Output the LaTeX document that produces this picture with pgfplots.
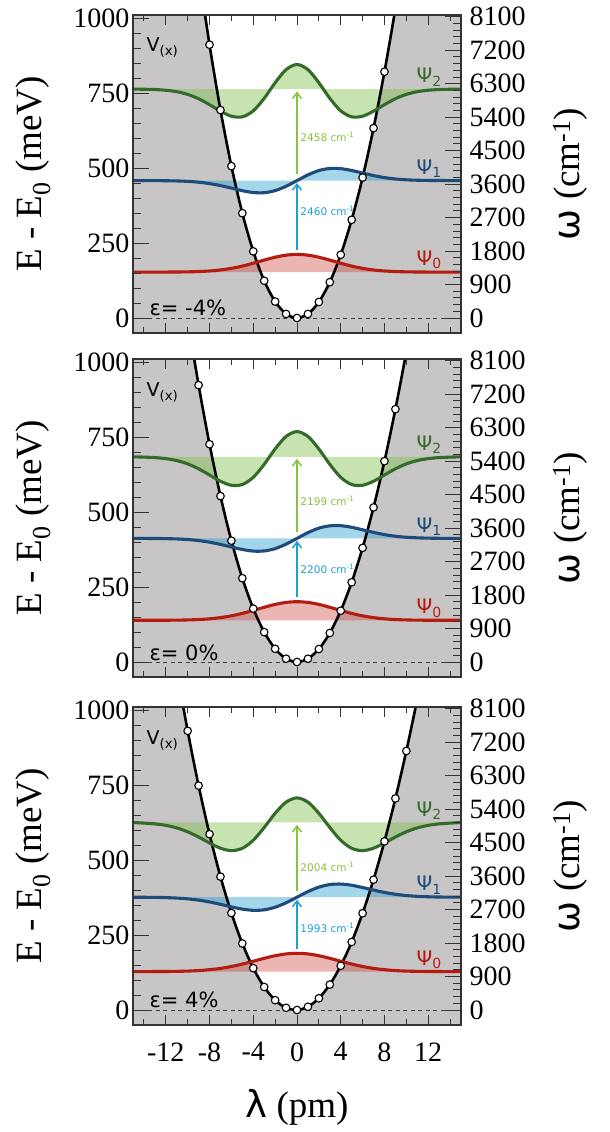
\documentclass[border=0pt]{standalone}
\usepackage{fontspec}
\setmainfont{Liberation Serif}
\newfontfamily\dv{DejaVu Sans}
\usepackage{pgfplots}
\pgfplotsset{compat=1.18}
\usepgfplotslibrary{fillbetween}
\usetikzlibrary{arrows.meta}

\definecolor{vgray}{RGB}{199,197,197}
\definecolor{redL}{RGB}{180,28,18}
\definecolor{bluL}{RGB}{30,75,122}
\definecolor{grnL}{RGB}{52,106,42}
\definecolor{redF}{RGB}{205,70,60}
\definecolor{bluF}{RGB}{50,165,210}
\definecolor{grnF}{RGB}{130,195,80}
\definecolor{arB}{RGB}{30,158,212}
\definecolor{arG}{RGB}{135,195,60}

\pgfplotsset{
 pbase/.style={width=328pt,height=318pt,scale only axis,xmin=-15,xmax=15,
   axis on top,set layers,
   tick label style={font=\fontsize{28}{28}\selectfont},
   /pgf/number format/assume math mode=true,/pgf/number format/1000 sep={},
   tick align=inside,axis line style={line width=1.3pt,black!80},
   tick style={line width=0.9pt,black!80},
   major tick length=16pt,minor tick length=8pt},
 pL/.style={pbase,ymin=-50,ymax=1010,ytick={0,250,500,750,1000},minor y tick num=4,
   ytick pos=left,xtick={-12,-8,-4,0,4,8,12},minor xtick={-14,-10,-6,-2,2,6,10,14},
   xtick pos=both,
   x tick style={/pgfplots/major tick length=10pt,/pgfplots/minor tick length=6pt}},
 pR/.style={pbase,ymin=-403.3,ymax=8146.2,axis y line*=right,hide x axis,
   ytick={0,900,...,8100},minor y tick num=4,yticklabel style={xshift=5pt}},
 vline/.style={smooth,black,line width=2.6pt},
 circ/.style={only marks,mark=*,mark size=3.8pt,black,line width=1.1pt,mark options={fill=white}},
 wl/.style={smooth,line width=3.1pt},
 zl/.style={black!75,line width=0.8pt,dash pattern=on 4pt off 3.5pt},
 gfill/.style={fill=vgray,draw=none},
}
\newcommand{\lab}{\dv\fontsize{10.5}{10.5}\selectfont}
\newcommand{\psif}{\dv\fontsize{20}{20}\selectfont}
\newcommand{\epsf}{\dv\fontsize{21}{21}\selectfont}
\newcommand{\vf}{\dv\fontsize{19}{19}\selectfont}

\begin{document}
\begin{tikzpicture}

% ================= PANEL 1 (eps = -4%) =================
\begin{axis}[pL,at={(0pt,692pt)},anchor=south west,xticklabels={}]
\addplot[draw=none,name path=bA] coordinates {(-15,-60) (15,-60)};
\addplot[vline,name path=VA] coordinates {(-15,3341) (-13,2480) (-12,2100) (-11,1754) (-10,1441) (-9,1160) (-8,911) (-7,693.2) (-6,506.1) (-5,349.3) (-4,222.1) (-3,124.1) (-2,54.8) (-1,13.6) (0,0) (1,13.4) (2,53.4) (3,119.4) (4,210.8) (5,327.3) (6,468.1) (7,632.8) (8,820.8) (9,1031.7) (10,1265) (11,1520) (12,1796) (13,2093) (15,2747)};
\addplot[gfill] fill between[of=VA and bA];
\addplot[zl] coordinates {(-15,0) (15,0)};
\addplot[circ] coordinates {(-8,911) (-7,693.2) (-6,506.1) (-5,349.3) (-4,222.1) (-3,124.1) (-2,54.8) (-1,13.6) (0,0) (1,13.4) (2,53.4) (3,119.4) (4,210.8) (5,327.3) (6,468.1) (7,632.8) (8,820.8)};
% psi0
\addplot[wl,redL,name path=a0A] coordinates {(-15,153) (-13,153) (-12,153.1) (-11,153.3) (-10,153.8) (-9,154.8) (-8,156.7) (-7,160.1) (-6,165.4) (-5,173.0) (-4,182.5) (-3,193.0) (-2,202.6) (-1,209.5) (0,212.0) (1,209.5) (2,202.6) (3,193.0) (4,182.5) (5,173.0) (6,165.4) (7,160.1) (8,156.7) (9,154.8) (10,153.8) (11,153.3) (12,153.1) (13,153) (15,153)};
\addplot[draw=none,name path=b0A] coordinates {(-15,153) (15,153)};
\addplot[fill=redF,fill opacity=0.4,draw=none] fill between[of=a0A and b0A];
% psi1
\addplot[wl,bluL,name path=a1A] coordinates {(-15,458) (-13,457.8) (-12,457.5) (-11,456.8) (-10,455.4) (-9,452.6) (-8,448.0) (-7,441.3) (-6,432.9) (-5,424.3) (-4,418.2) (-3,417.6) (-2,424.6) (-1,439.0) (0,458) (1,477.0) (2,491.4) (3,498.4) (4,497.8) (5,491.7) (6,483.1) (7,474.7) (8,468.0) (9,463.4) (10,460.6) (11,459.2) (12,458.5) (13,458.2) (15,458)};
\addplot[draw=none,name path=b1A] coordinates {(-15,458) (15,458)};
\addplot[fill=bluF,fill opacity=0.45,draw=none] fill between[of=a1A and b1A];
% psi2
\addplot[wl,grnL,name path=a2A] coordinates {(-15,763) (-14,762.4) (-13,761.5) (-12,759.1) (-11,754.3) (-10,745.3) (-9,730.9) (-8,711.1) (-7,689.4) (-6,672.6) (-5,670.5) (-4,690.4) (-3,732.1) (-2,784.2) (-1,827.9) (0,845.0) (1,827.9) (2,784.2) (3,732.1) (4,690.4) (5,670.5) (6,672.6) (7,689.4) (8,711.1) (9,730.9) (10,745.3) (11,754.3) (12,759.1) (13,761.5) (14,762.4) (15,763)};
\addplot[draw=none,name path=b2A] coordinates {(-15,763) (15,763)};
\addplot[fill=grnF,fill opacity=0.45,draw=none] fill between[of=a2A and b2A];
% arrows
\draw[arB,line width=1.5pt,-{Straight Barb[length=6pt,width=9pt]}] (axis cs:0,228) -- (axis cs:0,450);
\draw[arG,line width=1.5pt,-{Straight Barb[length=6pt,width=9pt]}] (axis cs:0,480) -- (axis cs:0,755);
\node[arB,anchor=west,inner sep=0pt,font=\lab] at (axis cs:0.3,358) {2460 cm\textsuperscript{-1}};
\node[arG,anchor=west,inner sep=0pt,font=\lab] at (axis cs:0.3,603) {2458 cm\textsuperscript{-1}};
\node[redL,font=\psif] at (axis cs:12.1,193) {Ψ\textsubscript{0}};
\node[bluL,font=\psif] at (axis cs:12.1,498) {Ψ\textsubscript{1}};
\node[grnL,font=\psif] at (axis cs:12.1,803) {Ψ\textsubscript{2}};
\node[font=\vf] at (axis cs:-12.3,902) {V\textsubscript{(x)}};
\node[anchor=west,inner sep=0pt,font=\epsf] at (axis cs:-13.5,34) {ε= -4\%};
\end{axis}
\begin{axis}[pR,at={(0pt,692pt)},anchor=south west]
\addplot[draw=none] coordinates {(0,0)};
\end{axis}

% ================= PANEL 2 (eps = 0%) =================
\begin{axis}[pL,at={(0pt,348pt)},anchor=south west,xticklabels={}]
\addplot[draw=none,name path=bB] coordinates {(-15,-60) (15,-60)};
\addplot[vline,name path=VB] coordinates {(-15,2638) (-13,1963) (-12,1664.6) (-11,1392.1) (-10,1145) (-9,923.0) (-8,725.8) (-7,553.0) (-6,404.3) (-5,279.4) (-4,177.9) (-3,99.6) (-2,44.0) (-1,11.0) (0,0) (1,10.9) (2,43.2) (3,96.6) (4,170.9) (5,265.6) (6,380.5) (7,515.2) (8,669.4) (9,842.8) (10,1035) (11,1245.7) (12,1474.6) (13,1721) (15,2267)};
\addplot[gfill] fill between[of=VB and bB];
\addplot[zl] coordinates {(-15,0) (15,0)};
\addplot[circ] coordinates {(-9,923.0) (-8,725.8) (-7,553.0) (-6,404.3) (-5,279.4) (-4,177.9) (-3,99.6) (-2,44.0) (-1,11.0) (0,0) (1,10.9) (2,43.2) (3,96.6) (4,170.9) (5,265.6) (6,380.5) (7,515.2) (8,669.4) (9,842.8)};
\addplot[wl,redL,name path=a0B] coordinates {(-15,139) (-13,139.1) (-12,139.2) (-11,139.5) (-10,140.2) (-9,141.5) (-8,143.9) (-7,147.9) (-6,153.9) (-5,162.0) (-4,171.9) (-3,182.4) (-2,191.9) (-1,198.6) (0,201.0) (1,198.6) (2,191.9) (3,182.4) (4,171.9) (5,162.0) (6,153.9) (7,147.9) (8,143.9) (9,141.5) (10,140.2) (11,139.5) (12,139.2) (13,139.1) (15,139)};
\addplot[draw=none,name path=b0B] coordinates {(-15,139) (15,139)};
\addplot[fill=redF,fill opacity=0.4,draw=none] fill between[of=a0B and b0B];
\addplot[wl,bluL,name path=a1B] coordinates {(-15,412) (-13,411.7) (-12,411.2) (-11,410.2) (-10,408.2) (-9,404.8) (-8,399.4) (-7,392.0) (-6,383.3) (-5,375.0) (-4,369.7) (-3,370.1) (-2,377.9) (-1,392.8) (0,412) (1,431.2) (2,446.1) (3,453.9) (4,454.3) (5,449.0) (6,440.7) (7,432.0) (8,424.6) (9,419.2) (10,415.8) (11,413.8) (12,412.8) (13,412.3) (15,412)};
\addplot[draw=none,name path=b1B] coordinates {(-15,412) (15,412)};
\addplot[fill=bluF,fill opacity=0.45,draw=none] fill between[of=a1B and b1B];
\addplot[wl,grnL,name path=a2B] coordinates {(-15,684) (-14,682.9) (-13,681.3) (-12,677.9) (-11,671.4) (-10,660.4) (-9,644.0) (-8,623.3) (-7,602.5) (-6,589.1) (-5,591.5) (-4,615.5) (-3,658.8) (-2,710.2) (-1,751.9) (0,768.0) (1,751.9) (2,710.2) (3,658.8) (4,615.5) (5,591.5) (6,589.1) (7,602.5) (8,623.3) (9,644.0) (10,660.4) (11,671.4) (12,677.9) (13,681.3) (14,682.9) (15,684)};
\addplot[draw=none,name path=b2B] coordinates {(-15,684) (15,684)};
\addplot[fill=grnF,fill opacity=0.45,draw=none] fill between[of=a2B and b2B];
\draw[arB,line width=1.5pt,-{Straight Barb[length=6pt,width=9pt]}] (axis cs:0,216) -- (axis cs:0,404);
\draw[arG,line width=1.5pt,-{Straight Barb[length=6pt,width=9pt]}] (axis cs:0,434) -- (axis cs:0,677);
\node[arB,anchor=west,inner sep=0pt,font=\lab] at (axis cs:0.3,310) {2200 cm\textsuperscript{-1}};
\node[arG,anchor=west,inner sep=0pt,font=\lab] at (axis cs:0.3,538) {2199 cm\textsuperscript{-1}};
\node[redL,font=\psif] at (axis cs:12.1,179) {Ψ\textsubscript{0}};
\node[bluL,font=\psif] at (axis cs:12.1,452) {Ψ\textsubscript{1}};
\node[grnL,font=\psif] at (axis cs:12.1,724) {Ψ\textsubscript{2}};
\node[font=\vf] at (axis cs:-12.3,899) {V\textsubscript{(x)}};
\node[anchor=west,inner sep=0pt,font=\epsf] at (axis cs:-13.5,32) {ε= 0\%};
\end{axis}
\begin{axis}[pR,at={(0pt,348pt)},anchor=south west]
\addplot[draw=none] coordinates {(0,0)};
\end{axis}

% ================= PANEL 3 (eps = 4%) =================
\begin{axis}[pL,at={(0pt,0pt)},anchor=south west,xticklabel style={yshift=-14pt}]
\addplot[draw=none,name path=bC] coordinates {(-15,-60) (15,-60)};
\addplot[vline,name path=VC] coordinates {(-15,2165.1) (-13,1605.7) (-12,1359.1) (-11,1134.1) (-10,930.5) (-9,747.9) (-8,586.1) (-7,444.6) (-6,323.2) (-5,221.7) (-4,139.6) (-3,76.7) (-2,32.7) (-1,7.2) (0,0) (1,10.7) (2,39.1) (3,84.7) (4,147.4) (5,226.8) (6,322.6) (7,434.5) (8,562.1) (9,705.2) (10,863.5) (11,1036.6) (12,1224.3) (13,1426.2) (15,1871.4)};
\addplot[gfill] fill between[of=VC and bC];
\addplot[zl] coordinates {(-15,0) (15,0)};
\addplot[circ] coordinates {(-10,930.5) (-9,747.9) (-8,586.1) (-7,444.6) (-6,323.2) (-5,221.7) (-4,139.6) (-3,76.7) (-2,32.7) (-1,7.2) (0,0) (1,10.7) (2,39.1) (3,84.7) (4,147.4) (5,226.8) (6,322.6) (7,434.5) (8,562.1) (9,705.2) (10,863.5)};
\addplot[wl,redL,name path=a0C] coordinates {(-15,128) (-13,128.2) (-12,128.4) (-11,128.8) (-10,129.7) (-9,131.4) (-8,134.3) (-7,138.7) (-6,145.0) (-5,153.1) (-4,162.5) (-3,172.3) (-2,180.9) (-1,186.9) (0,189.0) (1,186.9) (2,180.9) (3,172.3) (4,162.5) (5,153.1) (6,145.0) (7,138.7) (8,134.3) (9,131.4) (10,129.7) (11,128.8) (12,128.4) (13,128.2) (15,128)};
\addplot[draw=none,name path=b0C] coordinates {(-15,128) (15,128)};
\addplot[fill=redF,fill opacity=0.4,draw=none] fill between[of=a0C and b0C];
\addplot[wl,bluL,name path=a1C] coordinates {(-15,376) (-13,375.4) (-12,374.6) (-11,373.1) (-10,370.5) (-9,366.2) (-8,360.1) (-7,352.3) (-6,343.7) (-5,336.3) (-4,332.2) (-3,333.9) (-2,342.5) (-1,357.3) (0,376) (1,394.7) (2,409.6) (3,418.1) (4,419.8) (5,415.8) (6,408.3) (7,399.7) (8,391.9) (9,385.8) (10,381.5) (11,378.9) (12,377.4) (13,376.6) (15,376)};
\addplot[draw=none,name path=b1C] coordinates {(-15,376) (15,376)};
\addplot[fill=bluF,fill opacity=0.45,draw=none] fill between[of=a1C and b1C];
\addplot[wl,grnL,name path=a2C] coordinates {(-15,625) (-14,623) (-13,620.4) (-12,615.5) (-11,607.0) (-10,594.0) (-9,576.6) (-8,556.8) (-7,539.3) (-6,531.1) (-5,538.9) (-4,565.8) (-3,608.3) (-2,655.7) (-1,692.9) (0,707.0) (1,692.9) (2,655.7) (3,608.3) (4,565.8) (5,538.9) (6,531.1) (7,539.3) (8,556.8) (9,576.6) (10,594.0) (11,607.0) (12,615.5) (13,620.4) (14,623) (15,625)};
\addplot[draw=none,name path=b2C] coordinates {(-15,625) (15,625)};
\addplot[fill=grnF,fill opacity=0.45,draw=none] fill between[of=a2C and b2C];
\draw[arB,line width=1.5pt,-{Straight Barb[length=6pt,width=9pt]}] (axis cs:0,204) -- (axis cs:0,368);
\draw[arG,line width=1.5pt,-{Straight Barb[length=6pt,width=9pt]}] (axis cs:0,398) -- (axis cs:0,617);
\node[arB,anchor=west,inner sep=0pt,font=\lab] at (axis cs:0.3,274) {1993 cm\textsuperscript{-1}};
\node[arG,anchor=west,inner sep=0pt,font=\lab] at (axis cs:0.3,477) {2004 cm\textsuperscript{-1}};
\node[redL,font=\psif] at (axis cs:12.1,168) {Ψ\textsubscript{0}};
\node[bluL,font=\psif] at (axis cs:12.1,416) {Ψ\textsubscript{1}};
\node[grnL,font=\psif] at (axis cs:12.1,665) {Ψ\textsubscript{2}};
\node[font=\vf] at (axis cs:-12.3,899) {V\textsubscript{(x)}};
\node[anchor=west,inner sep=0pt,font=\epsf] at (axis cs:-13.5,33) {ε= 4\%};
\end{axis}
\begin{axis}[pR,at={(0pt,0pt)},anchor=south west]
\addplot[draw=none] coordinates {(0,0)};
\end{axis}

% axis titles
\foreach \yc in {851,507,159}{
  \node[rotate=90,font=\fontsize{37}{37}\selectfont] at (-100pt,\yc pt) {E - E\textsubscript{0} (meV)};
  \node[rotate=90,font=\fontsize{37}{37}\selectfont] at (437pt,\yc pt) {{\dv ω} (cm\textsuperscript{-1})};
}
\node[font=\fontsize{37}{37}\selectfont] at (164pt,-82pt) {{\dv λ} (pm)};
\pgfresetboundingbox
\useasboundingbox (-133pt,-107pt) rectangle (477pt,1025pt);
\end{tikzpicture}
\end{document}
